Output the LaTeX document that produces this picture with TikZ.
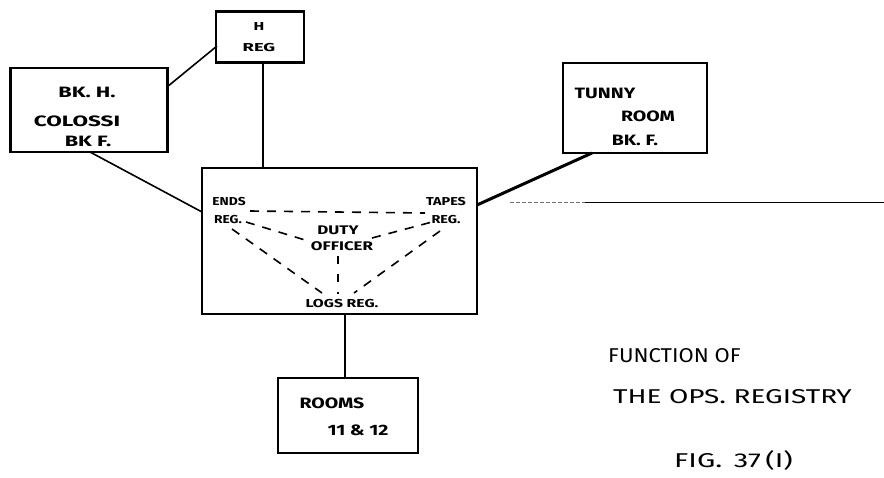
\documentclass[tikz,border=0pt]{standalone}
\usepackage{fontspec}
\usepackage{graphicx}
\setmainfont{Fira Sans}
\newcommand\widetxt[2]{\scalebox{#1}[1]{#2}}
\begin{document}
\begin{tikzpicture}[x=1pt,y=-1pt,
  box/.style={draw=black, line width=2.4pt, fill=white},
  link/.style={draw=black, line width=1.6pt},
  dashlink/.style={draw=black, line width=1.6pt, dash pattern=on 9pt off 8pt},
  lbl/.style={font=\bfseries\fontsize{11.5}{13}\selectfont, inner sep=1pt, align=center},
  midlbl/.style={font=\bfseries\fontsize{12.5}{14}\selectfont, inner sep=1pt, align=center},
  biglbl/.style={font=\bfseries\fontsize{15}{16}\selectfont, inner sep=1pt, align=center},
  captext/.style={font=\fontsize{20}{22}\selectfont, inner sep=1pt}]
\useasboundingbox[fill=white] (0,0) rectangle (884,477);
% boxes
\node[box, minimum width=88pt, minimum height=51pt] (hreg) at (260,37) {};
\node[box, minimum width=157pt, minimum height=84pt] (colossi) at (89,110) {};
\node[box, minimum width=144pt, minimum height=90pt] (tunny) at (635,108) {};
\node[box, minimum width=275pt, minimum height=146pt] (ops) at (339.5,241) {};
\node[box, minimum width=140pt, minimum height=75pt] (rooms) at (348,415.5) {};
% box texts
\node[lbl] (t1) at (259,27) {\widetxt{1.4}{H}};
\node[lbl] (t2) at (259,48) {\widetxt{1.6}{REG}};
\node[biglbl] (t3) at (87,92) {\widetxt{1.45}{BK. H.}};
\node[biglbl] (t4) at (77,121) {\widetxt{1.5}{COLOSSI}};
\node[biglbl] (t5) at (88,141) {\widetxt{1.45}{BK F.}};
\node[biglbl] (t6) at (605,93) {\widetxt{1.3}{TUNNY}};
\node[biglbl] (t7) at (648,116) {\widetxt{1.3}{ROOM}};
\node[biglbl] (t8) at (635,140) {\widetxt{1.3}{BK. F.}};
\node[biglbl] (t9) at (332,403) {\widetxt{1.3}{ROOMS}};
\node[biglbl] (t10) at (358,430) {\widetxt{1.3}{11 \& 12}};
% central texts
\node[lbl] (ends) at (229,202) {\widetxt{1.2}{ENDS}};
\node[lbl] (endsr) at (228,220) {\widetxt{1.2}{REG.}};
\node[lbl] (tapes) at (446,202) {\widetxt{1.25}{TAPES}};
\node[lbl] (tapesr) at (446,220) {\widetxt{1.25}{REG.}};
\node[midlbl] (duty) at (338,230) {\widetxt{1.35}{DUTY}};
\node[midlbl] (officer) at (342,246) {\widetxt{1.35}{OFFICER}};
\node[lbl] (logs) at (342,304) {\widetxt{1.37}{LOGS REG.}};
% connectors between boxes
\coordinate (hb) at (263,63);
\coordinate (ot) at (263,168);
\draw[link] (hb) -- (ot);
\coordinate (hl) at (217,46);
\coordinate (cr) at (167,87);
\draw[link] (hl) -- (cr);
\coordinate (cb) at (90,152);
\coordinate (ol) at (202,212);
\draw[link] (cb) -- (ol);
\coordinate (tb) at (592,153);
\coordinate (or) at (477,205);
\draw[link, line width=3pt] (tb) -- (or);
\coordinate (obot) at (345,314);
\coordinate (rtop) at (345,378);
\draw[link] (obot) -- (rtop);
% stray horizontal line
\coordinate (s1) at (510,202);
\coordinate (s2) at (585,202);
\coordinate (s3) at (884,202);
\draw[black!55, line width=0.8pt, dash pattern=on 4pt off 2pt] (s1) -- (s2);
\draw[black, line width=1pt] (s2) -- (s3);
% dashed lines inside ops
\coordinate (d1) at (250,211);
\coordinate (d2) at (425,213);
\draw[dashlink] (d1) -- (d2);
\coordinate (d3) at (246,222);
\coordinate (d4) at (305,240);
\draw[dashlink] (d3) -- (d4);
\coordinate (d5) at (372,238);
\coordinate (d6) at (432,222);
\draw[dashlink] (d5) -- (d6);
\coordinate (d7) at (232,229);
\coordinate (d8) at (322,293);
\draw[dashlink] (d7) -- (d8);
\coordinate (d9) at (440,231);
\coordinate (d10) at (354,293);
\draw[dashlink] (d9) -- (d10);
\coordinate (d11) at (338,256);
\coordinate (d12) at (338,294);
\draw[dashlink, dash pattern=on 8pt off 10pt] (d11) -- (d12);
% caption
\node[captext, anchor=west] (c1) at (607,356) {\widetxt{1.1}{FUNCTION OF}};
\node[captext, anchor=west] (c2) at (612,397) {\widetxt{1.4}{THE OPS. REGISTRY}};
\node[captext, anchor=west] (c3) at (673,460) {\widetxt{1.45}{FIG.\hspace{8pt}37\hspace{3pt}(I)}};
\end{tikzpicture}
\end{document}
